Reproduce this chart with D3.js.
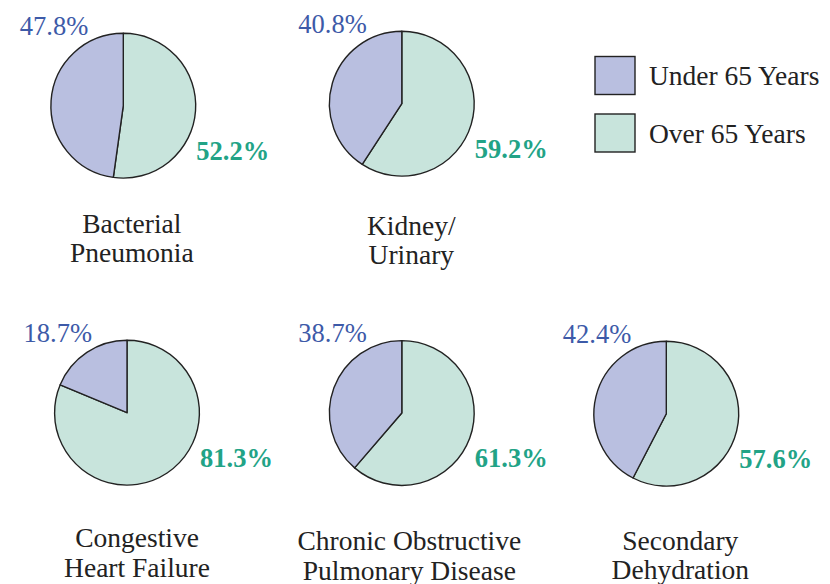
<!DOCTYPE html>
<html><head><meta charset="utf-8">
<script src="https://cdn.jsdelivr.net/npm/d3@7"></script>
<style>body{margin:0;background:#fff}svg{display:block}</style>
</head><body>
<script>
const categories = [["Bacterial","Pneumonia"],["Kidney/","Urinary"],["Congestive","Heart Failure"],["Chronic Obstructive","Pulmonary Disease"],["Secondary","Dehydration"]];
const under65 = [47.8, 40.8, 18.7, 38.7, 42.4];
const over65 = [52.2, 59.2, 81.3, 61.3, 57.6];
const seriesNames = ["Under 65 Years","Over 65 Years"];

const W = 830, H = 584;
const svg = d3.select("body").append("svg").attr("width", W).attr("height", H);
const font = '"Liberation Serif", "Times New Roman", Times, serif';
const colUnder = "#b9bfe0", colOver = "#c8e4dc";
const txtUnder = "#3d5aa8", txtOver = "#22a386";
// layout (pixel positions of each pie and its caption)
const centers = [[123.3,105.7],[401.8,103.7],[127,412.7],[401.8,413],[666.3,413.7]];
const labelDy = [127, 131.3, 134.6, 137, 136.3];
const labelDx = [8.5, 9.5, 10, 7.5, 14];
const r = 72.4;

const pie = d3.pie().sort(null).value(d => d.v);
const arc = d3.arc().innerRadius(0).outerRadius(r);

categories.forEach((cat, i) => {
  const [cx, cy] = centers[i];
  const g = svg.append("g").attr("transform", `translate(${cx},${cy})`);
  const arcs = pie([{k:"over", v: over65[i]}, {k:"under", v: under65[i]}]);
  g.selectAll("path").data(arcs).join("path")
    .attr("d", arc)
    .attr("fill", d => d.data.k === "over" ? colOver : colUnder)
    .attr("stroke", "#222").attr("stroke-width", 1.4).attr("stroke-linejoin","round");
  g.append("text").attr("x", -35).attr("y", -71).attr("text-anchor","end")
    .style("font-family", font).style("font-size", "26.5px").attr("fill", txtUnder)
    .text(d3.format(".1f")(under65[i]) + "%");
  g.append("text").attr("x", 73).attr("y", 54).attr("text-anchor","start")
    .style("font-family", font).style("font-size", "26.5px").style("font-weight","bold").attr("fill", txtOver)
    .text(d3.format(".1f")(over65[i]) + "%");
  const t = g.append("text").attr("text-anchor","middle").style("font-family", font)
    .style("font-size", "27.5px").attr("fill", "#222");
  cat.forEach((line, j) => {
    t.append("tspan").attr("x", labelDx[i]).attr("y", labelDy[i] + j * 29.5).text(line);
  });
});

// legend
const legend = svg.append("g").attr("transform", "translate(595,56.5)");
seriesNames.forEach((name, i) => {
  const gy = i * 57.5;
  legend.append("rect").attr("x", 0).attr("y", gy).attr("width", 40).attr("height", 38)
    .attr("fill", i === 0 ? colUnder : colOver).attr("stroke", "#222").attr("stroke-width", 1.4);
  legend.append("text").attr("x", 54).attr("y", gy + 28.5)
    .style("font-family", font).style("font-size", "27.5px").attr("fill", "#222").text(name);
});
</script>
</body></html>
